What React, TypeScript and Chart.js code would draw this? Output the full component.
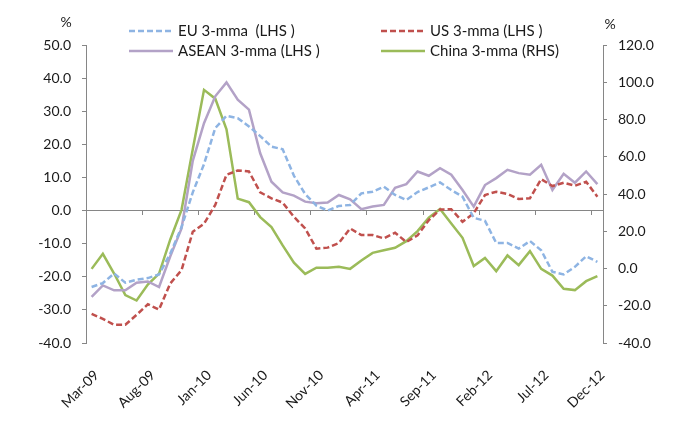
import React, { useEffect, useRef } from 'react';
import { Chart, registerables } from 'chart.js';

Chart.register(...registerables);

const months = [
  'Mar-09', 'Apr-09', 'May-09', 'Jun-09', 'Jul-09', 'Aug-09', 'Sep-09', 'Oct-09', 'Nov-09', 'Dec-09',
  'Jan-10', 'Feb-10', 'Mar-10', 'Apr-10', 'May-10', 'Jun-10', 'Jul-10', 'Aug-10', 'Sep-10', 'Oct-10',
  'Nov-10', 'Dec-10', 'Jan-11', 'Feb-11', 'Mar-11', 'Apr-11', 'May-11', 'Jun-11', 'Jul-11', 'Aug-11',
  'Sep-11', 'Oct-11', 'Nov-11', 'Dec-11', 'Jan-12', 'Feb-12', 'Mar-12', 'Apr-12', 'May-12', 'Jun-12',
  'Jul-12', 'Aug-12', 'Sep-12', 'Oct-12', 'Nov-12', 'Dec-12',
];

const euValues = [
  -23.1, -21.9, -19, -21.8, -20.9, -20.4, -19.3, -13, -5, 5.5,
  14, 24.9, 28.6, 27.9, 25.4, 22.5, 19.3, 18.5, 10.5, 5,
  1.5, 0, 1.4, 1.7, 5.2, 5.7, 7.2, 4.7, 3.2, 5.6,
  7, 8.5, 6.2, 4.2, -2.2, -3.1, -9.8, -9.8, -11.5, -9.2,
  -12, -18.5, -19.3, -17, -13.8, -15.5,
];

const usValues = [
  -31.2, -32.7, -34.5, -34.5, -31.5, -28.3, -29.9, -22, -18, -6.4,
  -4, 1.7, 10.8, 12.1, 11.8, 5.5, 3.7, 2.4, -1.9, -5.4,
  -11.5, -11.2, -9.8, -5.4, -7.4, -7.4, -8.4, -6.7, -9.5, -7.5,
  -2.9, 0.3, 0.4, -3.4, -0.8, 4.7, 5.7, 5, 3.5, 3.7,
  9.5, 7.4, 8.4, 7.5, 8.7, 4.2,
];

const aseanValues = [
  -26.1, -22.6, -24.1, -24.1, -21.8, -21.4, -23.1, -13.8, -5.4, 15,
  26.4, 34.5, 38.7, 33.5, 30.5, 17.3, 8.7, 5.5, 4.5, 2.7,
  2.2, 2.4, 4.7, 3.4, 0.4, 1.2, 1.7, 6.9, 8, 11.8,
  10.5, 12.8, 10.8, 6.2, 1.2, 7.7, 9.8, 12.3, 11.3, 10.8,
  13.8, 6.2, 11.1, 8.4, 11.8, 8,
];

const chinaValues = [
  -0.2, 7.9, -2.7, -14.3, -17.2, -8.6, -2.7, 15.6, 31.5, 64,
  95.9, 91.2, 74.7, 37.5, 35.6, 27.6, 22.2, 12.4, 3.1, -2.9,
  0.4, 0.4, 0.9, -0.2, 4.3, 8.4, 9.8, 11.1, 14.7, 20.1,
  27.3, 31.9, 24.2, 16.5, 1.3, 5.7, -1.4, 7, 1.8, 9.3,
  -0.2, -3.8, -10.9, -11.6, -6.8, -4.1,
];

const seriesNames = ['EU 3-mma  (LHS )', 'US 3-mma (LHS )', 'ASEAN 3-mma (LHS )', 'China 3-mma (RHS)'];

const FONT = 'Lato, "Open Sans", sans-serif';
const AXIS_GRAY = '#868686';
const TEXT = '#1a1a1a';

const legendSlots = [
  { x: 129, y: 31 },
  { x: 381, y: 31 },
  { x: 129, y: 51 },
  { x: 381, y: 51 },
];

const overlayPlugin = {
  id: 'overlayLegend',
  afterDraw(chart: any) {
    const ctx = chart.ctx;
    ctx.save();
    chart.data.datasets.forEach((ds: any, i: number) => {
      const s = legendSlots[i];
      ctx.strokeStyle = ds.borderColor;
      ctx.lineWidth = ds.borderWidth;
      ctx.setLineDash(ds.borderDash || []);
      ctx.beginPath();
      ctx.moveTo(s.x, s.y);
      ctx.lineTo(s.x + 44, s.y);
      ctx.stroke();
      ctx.setLineDash([]);
      ctx.fillStyle = TEXT;
      ctx.font = '15px ' + FONT;
      ctx.textBaseline = 'middle';
      ctx.textAlign = 'left';
      ctx.fillText(ds.label, s.x + 49, s.y);
    });
    ctx.font = '14px ' + FONT;
    ctx.textAlign = 'center';
    ctx.textBaseline = 'middle';
    ctx.fillStyle = TEXT;
    ctx.fillText('%', 66, 22);
    ctx.fillText('%', 610, 24);
    ctx.restore();
  },
};

export default function App() {
  const canvasRef = useRef<HTMLCanvasElement | null>(null);

  useEffect(() => {
    const canvas = canvasRef.current;
    if (!canvas) return;
    const lineBase = { pointRadius: 0, pointHoverRadius: 0, fill: false, tension: 0, borderWidth: 2.5 };
    const chart = new Chart(canvas, {
      type: 'line',
      data: {
        labels: months,
        datasets: [
          { ...lineBase, label: seriesNames[0], data: euValues, borderColor: '#8EB4E3', borderDash: [6, 3], yAxisID: 'y', xAxisID: 'x' },
          { ...lineBase, label: seriesNames[1], data: usValues, borderColor: '#C0504D', borderDash: [6, 3], yAxisID: 'y', xAxisID: 'x' },
          { ...lineBase, label: seriesNames[2], data: aseanValues, borderColor: '#B3A2C7', yAxisID: 'y', xAxisID: 'x' },
          { ...lineBase, label: seriesNames[3], data: chinaValues, borderColor: '#9BBB59', yAxisID: 'y1', xAxisID: 'x' },
        ],
      },
      options: {
        responsive: false,
        animation: false,
        events: [],
        layout: { padding: { top: 45, left: 0, right: 0, bottom: 0 } },
        plugins: { legend: { display: false }, tooltip: { enabled: false } },
        scales: {
          x: {
            type: 'category',
            position: 'bottom',
            offset: true,
            border: { display: false },
            grid: { display: false, drawTicks: false },
            ticks: {
              autoSkip: false,
              minRotation: 45,
              maxRotation: 45,
              padding: 24,
              labelOffset: 5,
              color: TEXT,
              font: { family: FONT, size: 14 },
              callback: (_v: any, i: number) => (i % 5 === 0 ? months[i] : ''),
            },
            afterFit: (s: any) => { s.height = 80; },
          },
          x0: {
            type: 'category',
            position: { y: 0 },
            offset: true,
            border: { display: true, color: AXIS_GRAY, width: 1 },
            grid: {
              offset: true,
              drawOnChartArea: false,
              drawTicks: true,
              tickLength: 4,
              tickWidth: 1,
              color: 'rgba(0,0,0,0)',
              tickColor: (c: any) => (c.index > 0 && c.index < months.length && c.index % 5 === 0 ? AXIS_GRAY : 'rgba(0,0,0,0)'),
            },
            ticks: { display: false, autoSkip: false },
          },
          y: {
            type: 'linear',
            position: 'left',
            min: -40,
            max: 50,
            border: { display: true, color: AXIS_GRAY, width: 1 },
            grid: { drawOnChartArea: false, drawTicks: true, tickLength: 4, tickColor: AXIS_GRAY },
            ticks: {
              stepSize: 10,
              padding: 11,
              color: TEXT,
              font: { family: FONT, size: 14 },
              callback: (v: any) => Number(v).toFixed(1),
            },
            afterFit: (s: any) => { s.width = 86; },
          },
          y1: {
            type: 'linear',
            position: 'right',
            min: -40,
            max: 120,
            border: { display: true, color: AXIS_GRAY, width: 1 },
            grid: { drawOnChartArea: false, drawTicks: true, tickLength: 4, tickColor: AXIS_GRAY },
            ticks: {
              stepSize: 20,
              padding: 11,
              color: TEXT,
              font: { family: FONT, size: 14 },
              callback: (v: any) => Number(v).toFixed(1),
            },
            afterFit: (s: any) => { s.width = 72; },
          },
        },
      },
      plugins: [overlayPlugin],
    } as any);
    return () => chart.destroy();
  }, []);

  return (
    <div style={{ position: 'fixed', left: 0, top: 0, width: 675, height: 423, background: '#fff' }}>
      <canvas ref={canvasRef} width={675} height={423} style={{ display: 'block', width: 675, height: 423 }} />
    </div>
  );
}
